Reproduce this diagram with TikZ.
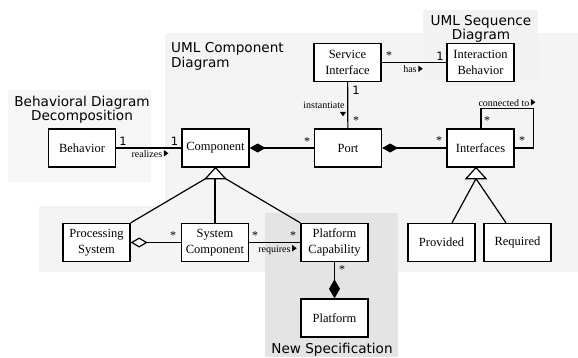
\documentclass[tikz,border=0pt]{standalone}
\usepackage{fontspec}
\setmainfont{Liberation Serif}
\newfontfamily\dejavu{DejaVu Sans}
\usetikzlibrary{arrows.meta,calc}
\newcommand\rtrimark{\,\tikz[baseline=0pt]\fill (0pt,0.5pt) -- (0pt,7pt) -- (4.5pt,3.75pt) -- cycle;}
\newcommand\dtrimark{\tikz[baseline=0pt]\fill (0pt,0pt) -- (6.5pt,0pt) -- (3.25pt,-4.5pt) -- cycle;}
\begin{document}
\begin{tikzpicture}[x=1pt,y=-1pt,
  box/.style={draw, line width=1.3pt, fill=white, minimum width=67pt, minimum height=38pt,
    inner sep=0pt, align=center, font=\fontsize{12.5}{16}\selectfont},
  conn/.style={line width=1.2pt},
  one/.style={font=\dejavu\fontsize{11.5}{11.5}\selectfont, inner sep=0pt, anchor=base},
  many/.style={font=\fontsize{12}{12}\selectfont, inner sep=0pt, anchor=base},
  rel/.style={font=\fontsize{10}{10}\selectfont, inner sep=0pt, anchor=base},
  grp/.style={font=\dejavu\fontsize{13.6}{12.4}\selectfont, inner sep=0pt},
]
\useasboundingbox (0,0) rectangle (578,357);
% group backgrounds
\fill[gray!9] (165,33) rectangle (578,272);
\fill[gray!9] (39,206) rectangle (165,272);
\fill[gray!7] (8,90) rectangle (151,182);
\fill[gray!10] (423,10) rectangle (538,86);
\fill[gray!21] (265,213) rectangle (398,357);
% group titles
\node[grp, align=center, anchor=north] (tBeh) at (82,95.5) {Behavioral Diagram\\Decomposition};
\node[grp, align=left, anchor=north west] (tComp) at (171,42.7) {UML Component\\Diagram};
\node[grp, align=center, anchor=north] (tSeq) at (481,15) {UML Sequence\\Diagram};
\node[grp, anchor=north] (tNew) at (332,342.5) {New Specification};
% classes
\node[box] (Behavior) at (82,148) {Behavior};
\node[box] (Component) at (215.5,148) {Component};
\node[box] (Port) at (348,148) {Port};
\node[box] (Interfaces) at (480.5,148) {Interfaces};
\node[box] (SI) at (347.5,62.5) {Service\\Interface};
\node[box] (IB) at (480.5,62.5) {Interaction\\Behavior};
\node[box] (PS) at (96.5,242.5) {Processing\\System};
\node[box] (SC) at (215,242.5) {System\\Component};
\node[box] (PC) at (334.5,242.5) {Platform\\Capability};
\node[box] (PF) at (334.5,318) {Platform};
\node[box] (Prov) at (441.5,242.5) {Provided};
\node[box] (Req) at (517.5,242.5) {Required};
% associations
\draw[conn] (Behavior) -- (Component);
\draw[conn, {Diamond[length=16pt,width=9pt]}-] (Component) -- (Port);
\draw[conn, {Diamond[length=16pt,width=9pt]}-] (Port) -- (Interfaces);
\draw[conn] (SI) -- (Port);
\draw[conn] (SI) -- (IB);
\draw[conn] ($(Interfaces.north)+(0.5,0)$) -- ++(0,-20) -| ($(Interfaces.east)+(19,0)$) -- (Interfaces.east);
\draw[conn, {Diamond[fill=white,length=17pt,width=10pt]}-] (PS) -- (SC);
\draw[conn] (SC) -- (PC);
\draw[conn, -{Diamond[length=19pt,width=11pt]}] (PC) -- (PF);
% generalization of Component
\coordinate (gL) at ($(Component.south)+(-10,11)$);
\coordinate (gR) at ($(Component.south)+(10,11)$);
\draw[conn] (gL) -- (PS.north east);
\draw[conn] (SC.north) -- (SC.north |- gL);
\draw[conn] (gR) -- (PC.north west);
\draw[conn, fill=white, line join=miter] (Component.south) -- (gL) -- (gR) -- cycle;
% generalization of Interfaces
\coordinate (iA) at ($(Interfaces.south)+(-4.5,0)$);
\coordinate (iL) at ($(iA)+(-10,11)$);
\coordinate (iR) at ($(iA)+(10,11)$);
\coordinate (iB) at ($(iA)+(0,11)$);
\draw[conn] (iB) -- ($(Prov.north)+(10.5,0)$);
\draw[conn] (iB) -- ($(Req.north)+(-11.5,0)$);
\draw[conn, fill=white, line join=miter] (iA) -- (iL) -- (iR) -- cycle;
% multiplicities
\node[one] (m1) at (123,145) {1};
\node[one] (m2) at (174.5,145) {1};
\node[many] (m3) at (307,145) {*};
\node[many] (m4) at (439,144) {*};
\node[many] (m5) at (389,59) {*};
\node[one] (m6) at (440,60.5) {1};
\node[one] (m7) at (356,94) {1};
\node[many] (m8) at (356,124) {*};
\node[many] (m9) at (487,124) {*};
\node[many] (m10) at (522,144) {*};
\node[many] (m11) at (173,239) {*};
\node[many] (m12) at (255,239) {*};
\node[many] (m13) at (293,239) {*};
\node[many] (m14) at (342,273) {*};
% association names
\node[rel] (l1) at (150,157) {realizes\rtrimark};
\node[rel] (l2) at (413,72.5) {has\rtrimark};
\node[rel] (l3) at (324,108.5) {instantiate};
\node[inner sep=0pt] (l3t) at (343,114) {\dtrimark};
\node[rel] (l4) at (277.5,252) {requires\rtrimark};
\node[rel] (l5) at (507,106) {connected to\rtrimark};
\end{tikzpicture}
\end{document}
